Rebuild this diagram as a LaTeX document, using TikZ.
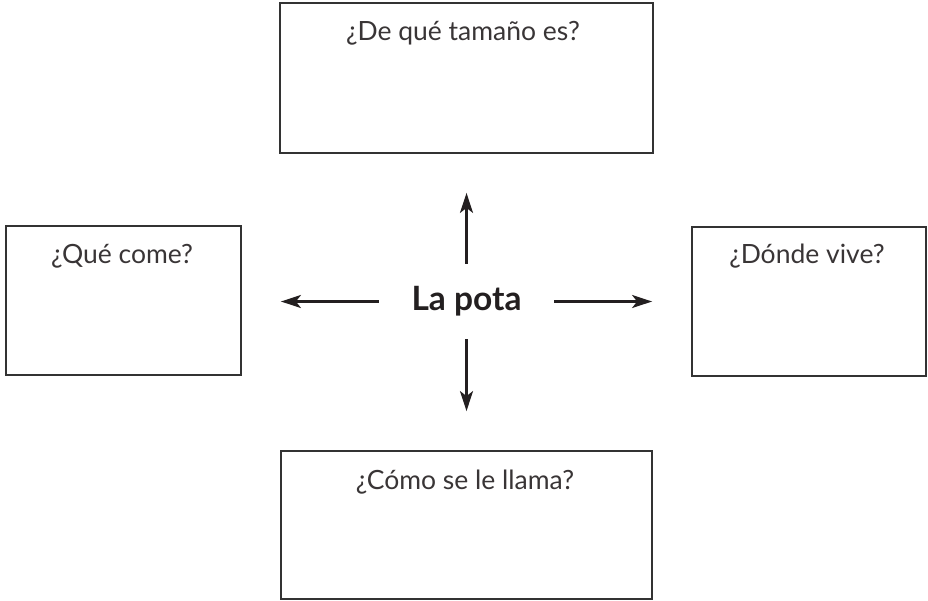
\documentclass[tikz,border=0pt]{standalone}
\usepackage{fontspec}
\setmainfont{Lato}
\usetikzlibrary{arrows.meta}
\definecolor{ink}{HTML}{231F20}
\definecolor{boxline}{HTML}{333333}
\begin{document}
\begin{tikzpicture}[x=1pt,y=-1pt,
  qbox/.style={draw=boxline, line width=1.8pt, inner sep=0pt},
  qtext/.style={anchor=base, inner sep=0pt, font=\fontsize{26.5}{30}\selectfont, text=ink!90},
  hubnode/.style={inner sep=0pt, minimum width=175pt, minimum height=75pt, font=\fontsize{33.5}{38}\selectfont\bfseries, text=ink},
  arr/.style={draw=ink, line width=2.6pt, -{Stealth[length=20pt,width=13pt,inset=5pt]}, shorten >=39pt}
]
\useasboundingbox (0,0) rectangle (928,600);
\node[qbox, minimum width=373pt, minimum height=150pt] (top) at (466.5,78) {};
\node[qbox, minimum width=235pt, minimum height=149pt] (left) at (123.5,300.5) {};
\node[qbox, minimum width=234pt, minimum height=149pt] (right) at (809,301.5) {};
\node[qbox, minimum width=371pt, minimum height=148pt] (bottom) at (466.5,525) {};
\node[qtext] (ttop) at (463,40) {¿De qué tamaño es?};
\node[qtext] (tleft) at (122,263) {¿Qué come?};
\node[qtext] (tright) at (807,263) {¿Dónde vive?};
\node[qtext] (tbottom) at (465,489) {¿Cómo se le llama?};
\node[hubnode] (hub) at (466.5,301.5) {La pota};
\draw[arr] (hub.north) -- (hub.north |- top.south);
\draw[arr] (hub.south) -- (hub.south |- bottom.north);
\draw[arr] (hub.west) -- (hub.west -| left.east);
\draw[arr] (hub.east) -- (hub.east -| right.west);
\end{tikzpicture}
\end{document}
